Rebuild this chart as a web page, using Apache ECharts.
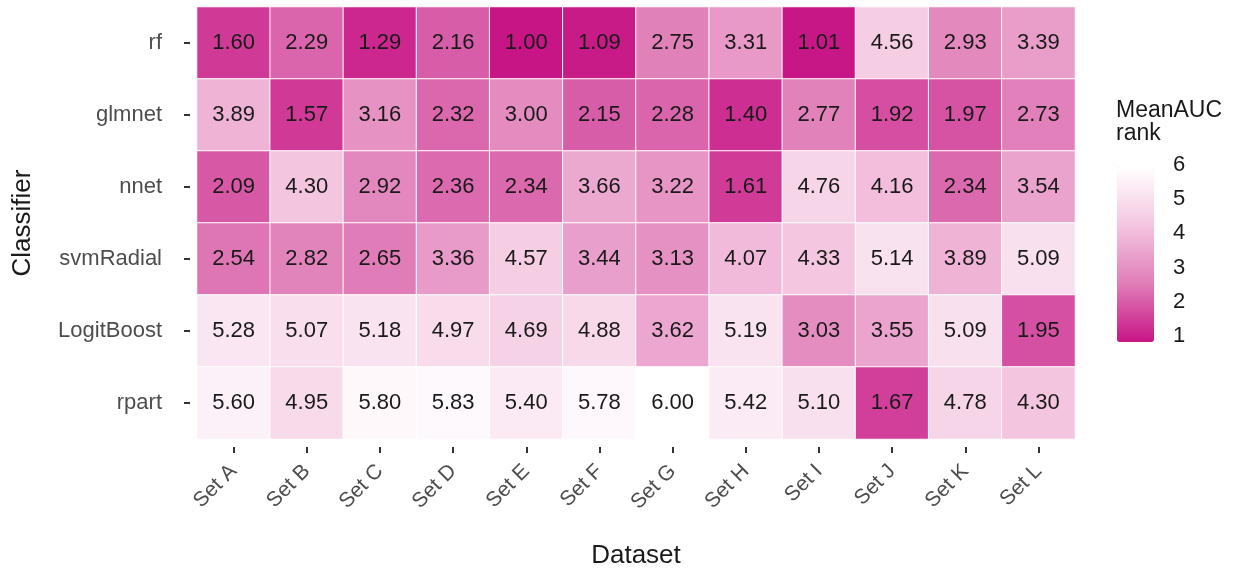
<!DOCTYPE html>
<html>
<head>
    <meta charset="utf-8">
    <title>Mean AUC rank</title>
    <style>
        body { margin: 0; overflow: hidden; background: #fff; }
    </style>
</head>
<body>
<div id="chart-container" style="width: 1250px; height: 574px;"></div>
<script src="https://cdn.jsdelivr.net/npm/echarts@6/dist/echarts.min.js"></script>
<script>
// data
var datasets = ['Set A', 'Set B', 'Set C', 'Set D', 'Set E', 'Set F', 'Set G', 'Set H', 'Set I', 'Set J', 'Set K', 'Set L'];
var classifiers = ['rf', 'glmnet', 'nnet', 'svmRadial', 'LogitBoost', 'rpart'];

var rf         = [1.60, 2.29, 1.29, 2.16, 1.00, 1.09, 2.75, 3.31, 1.01, 4.56, 2.93, 3.39];
var glmnet     = [3.89, 1.57, 3.16, 2.32, 3.00, 2.15, 2.28, 1.40, 2.77, 1.92, 1.97, 2.73];
var nnet       = [2.09, 4.30, 2.92, 2.36, 2.34, 3.66, 3.22, 1.61, 4.76, 4.16, 2.34, 3.54];
var svmRadial  = [2.54, 2.82, 2.65, 3.36, 4.57, 3.44, 3.13, 4.07, 4.33, 5.14, 3.89, 5.09];
var logitBoost = [5.28, 5.07, 5.18, 4.97, 4.69, 4.88, 3.62, 5.19, 3.03, 3.55, 5.09, 1.95];
var rpart      = [5.60, 4.95, 5.80, 5.83, 5.40, 5.78, 6.00, 5.42, 5.10, 1.67, 4.78, 4.30];

var rankMin = 1, rankMax = 6, rankStep = 1;

var rows = [rf, glmnet, nnet, svmRadial, logitBoost, rpart];
var cells = [];
rows.forEach(function (row, r) {
    row.forEach(function (v, c) {
        cells.push([c, r, v]);
    });
});

var font = '"Liberation Sans", Arial, sans-serif';
var myChart = echarts.init(document.getElementById('chart-container'));

// little white marks inside the colour bar
var barTick = { show: true, inside: true, length: 6, lineStyle: { color: '#fff', width: 1 } };

var option = {
    animation: false,
    textStyle: { fontFamily: font },
    title: {
        text: 'MeanAUC\nrank',
        left: 1116,
        top: 99,
        padding: 0,
        textStyle: { fontSize: 23, fontWeight: 'normal', color: '#1a1a1a', lineHeight: 23, fontFamily: font }
    },
    grid: [
        { left: 197, top: 7, width: 878, height: 435 },
        // grid only used for the colour bar labels
        { left: 1117, top: 165, width: 37, height: 171 }
    ],
    xAxis: [{
        type: 'category',
        data: datasets,
        gridIndex: 0,
        offset: 8,
        axisLine: { show: false },
        axisTick: { show: true, alignWithLabel: true, length: 6, lineStyle: { color: '#333', width: 2 } },
        axisLabel: { rotate: 45, margin: 21, fontSize: 21, color: '#4d4d4d', interval: 0 },
        splitLine: { show: false },
        name: 'Dataset',
        nameLocation: 'middle',
        nameGap: 96,
        nameTextStyle: { fontSize: 26, color: '#1a1a1a' }
    }, {
        type: 'value',
        gridIndex: 1,
        show: false
    }],
    yAxis: [{
        type: 'category',
        data: classifiers,
        inverse: true,
        gridIndex: 0,
        offset: 7,
        axisLine: { show: false },
        axisTick: { show: true, alignWithLabel: true, length: 6, lineStyle: { color: '#333', width: 2 } },
        axisLabel: { margin: 28, fontSize: 22, color: '#4d4d4d' },
        splitLine: { show: false },
        name: 'Classifier',
        nameLocation: 'middle',
        nameGap: 154,
        nameTextStyle: { fontSize: 26, color: '#1a1a1a' }
    }, {
        type: 'value',
        gridIndex: 1,
        position: 'right',
        min: rankMin,
        max: rankMax,
        interval: rankStep,
        axisLine: { show: false },
        axisTick: barTick,
        axisLabel: { margin: 19, fontSize: 22, color: '#1a1a1a' },
        splitLine: { show: false }
    }, {
        type: 'value',
        gridIndex: 1,
        position: 'left',
        min: rankMin,
        max: rankMax,
        interval: rankStep,
        axisLine: { show: false },
        axisTick: barTick,
        axisLabel: { show: false },
        splitLine: { show: false }
    }],
    visualMap: {
        type: 'continuous',
        seriesIndex: 0,
        min: rankMin,
        max: rankMax,
        calculable: false,
        showLabel: false,
        text: ['', ''],
        left: 1117,
        top: 167,
        padding: 0,
        itemWidth: 37,
        itemHeight: 175,
        inRange: { color: ['#C71585', '#E07DB8', '#F4C6E0', '#FFFFFF'] }
    },
    series: [{
        type: 'heatmap',
        xAxisIndex: 0,
        yAxisIndex: 0,
        data: cells,
        z: 1,
        itemStyle: { borderColor: '#fff', borderWidth: 1 },
        label: {
            show: true,
            fontSize: 22,
            color: '#1a1a1a',
            formatter: function (p) { return p.value[2].toFixed(2); }
        },
        emphasis: { disabled: true }
    }]
};

myChart.setOption(option);
</script>
</body>
</html>
